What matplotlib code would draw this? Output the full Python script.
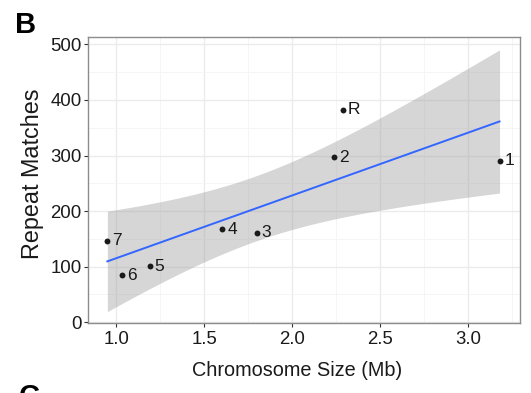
import numpy as np
import matplotlib
matplotlib.use("Agg")
import matplotlib.pyplot as plt
from matplotlib.ticker import MultipleLocator

plt.rcParams['font.family'] = ['Liberation Sans', 'DejaVu Sans']

# data
chrom_labels = ['7', '6', '5', '4', '3', '2', 'R', '1']
chrom_size_mb = [0.949, 1.032, 1.190, 1.602, 1.799, 2.236, 2.287, 3.177]
repeat_matches = [147, 85, 101, 167, 161, 297, 382, 291]

x = np.array(chrom_size_mb)
y = np.array(repeat_matches)

# linear fit with 95% confidence band (like geom_smooth(method="lm"))
n = len(x)
slope, intercept = np.polyfit(x, y, 1)
resid = y - (slope * x + intercept)
s = np.sqrt(np.sum(resid ** 2) / (n - 2))
sxx = np.sum((x - x.mean()) ** 2)
t_crit = 2.446912  # t(0.975, df=6)
xs = np.linspace(x.min(), x.max(), 80)
ys = slope * xs + intercept
half = t_crit * s * np.sqrt(1.0 / n + (xs - x.mean()) ** 2 / sxx)

W, H = 531, 393
fig = plt.figure(figsize=(W / 100, H / 100), dpi=100)
ax = fig.add_axes([88 / W, 1 - 323.3 / H, 432.3 / W, 286 / H])

ax.fill_between(xs, ys - half, ys + half, color='#999999', alpha=0.4, linewidth=0, zorder=2)
ax.plot(xs, ys, color='#3366FF', linewidth=1.4, zorder=3)
ax.scatter(x, y, s=18, color='#1a1a1a', zorder=4, linewidths=0)
for lab, xi, yi in zip(chrom_labels, x, y):
    ax.annotate(lab, (xi, yi), xytext=(3.5, 0), textcoords='offset points',
                ha='left', va='center', fontsize=12.5, color='#1a1a1a', zorder=5)

ax.set_xlim(0.839, 3.295)
ax.set_ylim(-1.8, 512.6)
ax.xaxis.set_major_locator(MultipleLocator(0.5))
ax.xaxis.set_minor_locator(MultipleLocator(0.25))
ax.yaxis.set_major_locator(MultipleLocator(100))
ax.yaxis.set_minor_locator(MultipleLocator(50))
ax.set_xticks([1.0, 1.5, 2.0, 2.5, 3.0])
ax.set_xticklabels(['1.0', '1.5', '2.0', '2.5', '3.0'])

ax.grid(which='major', color='#ebebeb', linewidth=1.0, zorder=0)
ax.grid(which='minor', color='#f4f4f4', linewidth=0.6, zorder=0)
ax.set_axisbelow(True)
for sp in ax.spines.values():
    sp.set_color('#8c8c8c')
    sp.set_linewidth(1.0)

ax.tick_params(which='major', length=3, width=0.8, color='#333333', labelsize=13.4, labelcolor='#1a1a1a')
ax.tick_params(axis='y', pad=1.5)
ax.tick_params(axis='x', pad=2.5)
ax.tick_params(which='minor', length=0)

ax.set_xlabel('Chromosome Size (Mb)', fontsize=14.3, color='#1a1a1a')
ax.xaxis.set_label_coords((296.7 - 88) / 432.3, (323.3 - 361) / 286)
ax.set_ylabel('Repeat Matches', fontsize=16.8, color='#1a1a1a')
ax.yaxis.set_label_coords((44 - 88) / 432.3, (323.3 - 174) / 286)

fig.text(15 / W, 1 - 11 / H, 'B', fontsize=21, fontweight='bold', ha='left', va='top')
fig.text(19 / W, 1 - 383 / H, 'C', fontsize=21, fontweight='bold', ha='left', va='top')

fig.savefig('out.png', dpi=100)
